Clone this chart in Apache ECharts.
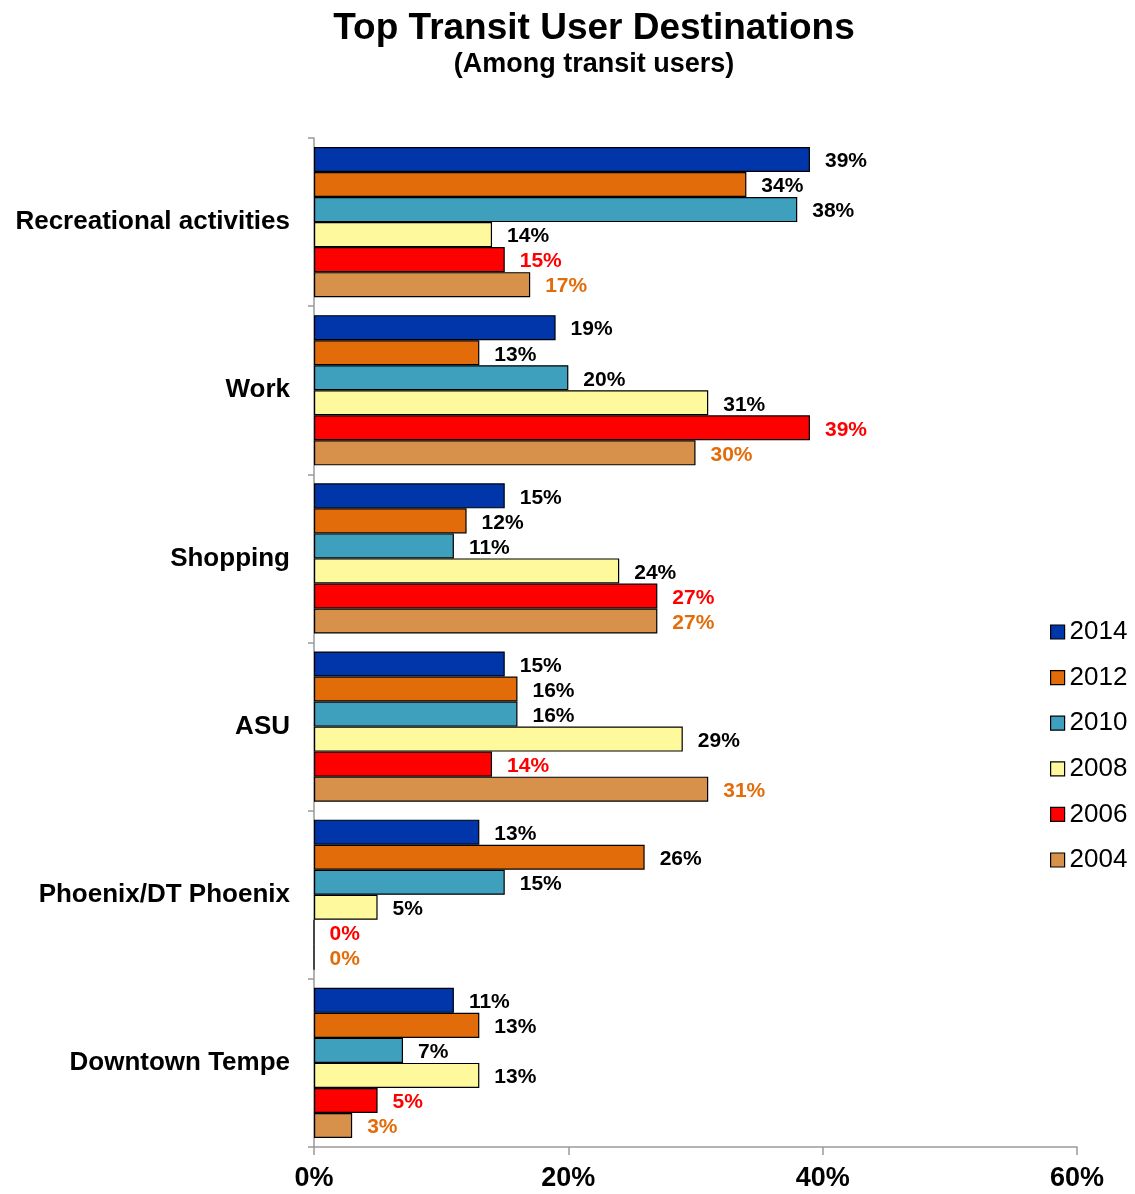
<!DOCTYPE html>
<html>
<head>
<meta charset="utf-8">
<script src="https://cdn.jsdelivr.net/npm/echarts@6/dist/echarts.min.js"></script>
<style>html,body{margin:0;padding:0;background:#fff}#c{width:1135px;height:1194px}</style>
</head>
<body>
<div id="c"></div>
<script>
const categories = ['Recreational activities', 'Work', 'Shopping', 'ASU', 'Phoenix/DT Phoenix', 'Downtown Tempe'];
const years = ['2014', '2012', '2010', '2008', '2006', '2004'];
const v2014 = [39, 19, 15, 15, 13, 11];
const v2012 = [34, 13, 12, 16, 26, 13];
const v2010 = [38, 20, 11, 16, 15, 7];
const v2008 = [14, 31, 24, 29, 5, 13];
const v2006 = [15, 39, 27, 14, 0, 5];
const v2004 = [17, 30, 27, 31, 0, 3];
const xTicks = [0, 20, 40, 60];

const values = [v2014, v2012, v2010, v2008, v2006, v2004];
const colors = ['#0036AA', '#E36C0A', '#3FA0BE', '#FFF99E', '#FF0000', '#D8914A'];
const labelColors = ['#000', '#000', '#000', '#000', '#FF0000', '#E36C0A'];
const font = '"Liberation Sans", Arial, sans-serif';

const chart = echarts.init(document.getElementById('c'));
chart.setOption({
  animation: false,
  title: {
    text: 'Top Transit User Destinations',
    subtext: '(Among transit users)',
    left: 589, textAlign: 'center', top: 5,
    itemGap: 4,
    textStyle: {fontFamily: font, fontWeight: 'bold', fontSize: 37, color: '#000'},
    subtextStyle: {fontFamily: font, fontWeight: 'bold', fontSize: 27, color: '#000'}
  },
  legend: {
    orient: 'vertical', left: 1050, top: 619, padding: 0,
    itemWidth: 14, itemHeight: 14, itemGap: 19.6,
    icon: 'rect',
    data: years,
    itemStyle: {borderColor: '#000', borderWidth: 1.2},
    textStyle: {fontFamily: font, fontSize: 26, color: '#000', lineHeight: 26, padding: [0, 0, 0, 0]}
  },
  grid: {left: 314, right: 58, top: 138, bottom: 47},
  xAxis: {
    type: 'value', min: 0, max: 60, interval: 20,
    axisLine: {show: true, lineStyle: {color: '#9a9a9a', width: 1.5}},
    axisTick: {show: true, length: 8, lineStyle: {color: '#9a9a9a', width: 1.5}},
    splitLine: {show: false},
    axisLabel: {formatter: v => xTicks.includes(v) ? v + '%' : '', fontFamily: font, fontWeight: 'bold', fontSize: 27, color: '#000', margin: 18}
  },
  yAxis: {
    type: 'category', data: categories, inverse: true,
    axisLine: {show: true, lineStyle: {color: '#9a9a9a', width: 1.5}},
    axisTick: {show: true, length: 6, lineStyle: {color: '#9a9a9a', width: 1.5}},
    axisLabel: {fontFamily: font, fontWeight: 'bold', fontSize: 26, color: '#000', margin: 24}
  },
  series: years.map((y, i) => ({
    name: y, type: 'bar', data: values[i],
    barGap: '0%', barCategoryGap: '10.7%',
    itemStyle: {color: colors[i], borderColor: '#000', borderWidth: 1.2},
    label: {show: true, position: 'right', distance: 15, offset: [0, 2], formatter: '{c}%',
      fontFamily: font, fontWeight: 'bold', fontSize: 21, color: labelColors[i]}
  }))
});
</script>
</body>
</html>
